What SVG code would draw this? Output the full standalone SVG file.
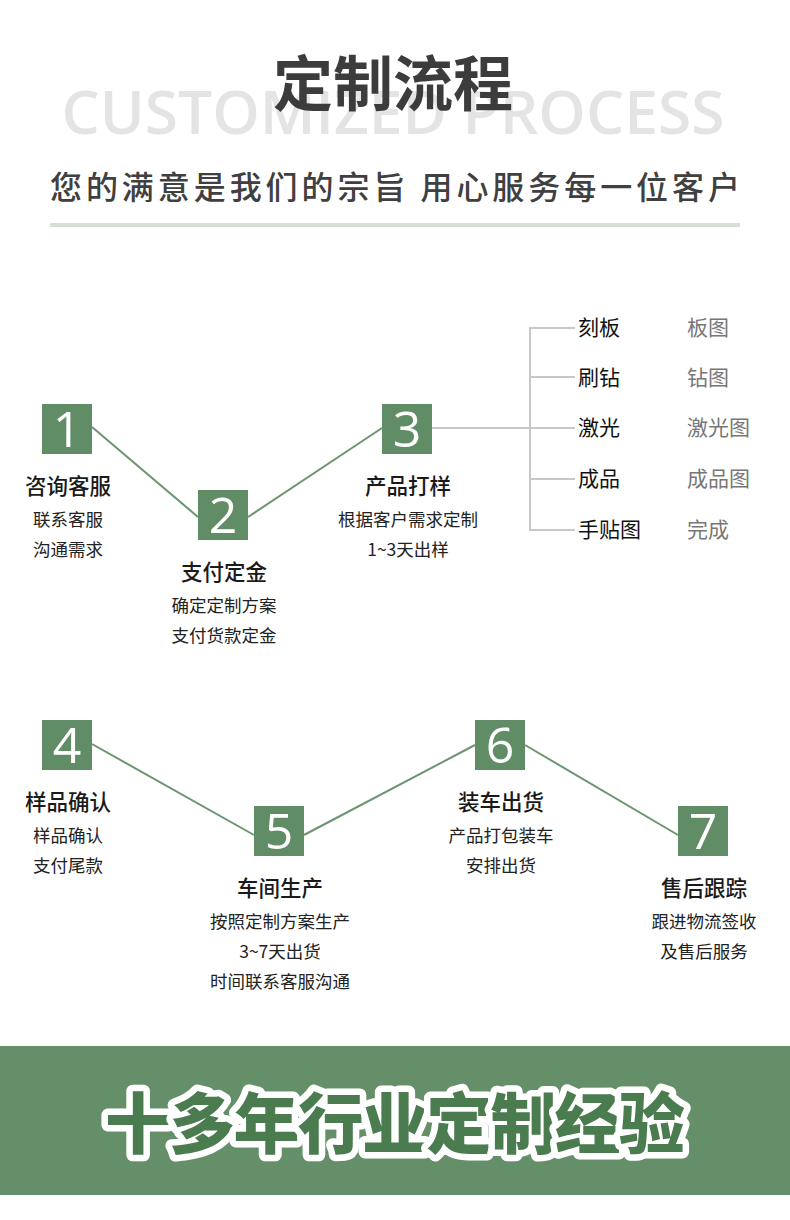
<svg xmlns="http://www.w3.org/2000/svg" width="790" height="1220" viewBox="0 0 790 1220">
<style>
text{font-family:"Noto Sans CJK SC","Noto Sans",sans-serif}
.box{fill:#608d66}
.num{fill:#fff;font-family:"Open Sans","Noto Sans",sans-serif;font-size:50px;text-anchor:middle}
.t{font-size:21.5px;fill:#1a1a1a;text-anchor:middle;font-weight:500}
.s{font-size:17.5px;fill:#222;text-anchor:middle}
.conn{stroke:#6a9570;stroke-width:2;fill:none}
.tree{stroke:#c8c8c8;stroke-width:2;fill:none}
.k{font-size:21px;fill:#111}
.g{font-size:21px;fill:#777}
</style>
<rect width="790" height="1220" fill="#fff"/>
<g id="header">
<text x="393" y="134" font-size="60" font-weight="600" fill="#e4e4e4" text-anchor="middle" textLength="663" lengthAdjust="spacingAndGlyphs" style="font-family:'Open Sans','Noto Sans',sans-serif">CUSTOMIZED PROCESS</text>
<text x="393" y="106" font-size="60" font-weight="700" fill="#3c3c3c" text-anchor="middle">定制流程</text>
<text x="395" y="199" font-size="32" font-weight="500" fill="#404040" text-anchor="middle" textLength="690" lengthAdjust="spacing">您的满意是我们的宗旨 用心服务每一位客户</text>
<rect x="50" y="223" width="690" height="4" fill="#d4e0d3"/>
</g>
<g id="connectors">
<line class="conn" x1="92" y1="427" x2="198" y2="517"/>
<line class="conn" x1="248" y1="517" x2="382" y2="428"/>
<line class="tree" x1="432" y1="428" x2="530" y2="428"/>
<path class="tree" d="M575 328H530V530H575M530 377H575M530 428H575M530 479H575"/>
<line class="conn" x1="92" y1="744" x2="254" y2="835"/>
<line class="conn" x1="304" y1="835" x2="475" y2="745"/>
<line class="conn" x1="525" y1="745" x2="678" y2="835"/>
</g>
<g id="step1">
<rect class="box" x="42" y="404" width="50" height="50"/>
<text class="num" x="67" y="447">1</text>
<text class="t" x="68" y="494">咨询客服</text>
<text class="s" x="68" y="526">联系客服</text>
<text class="s" x="68" y="556">沟通需求</text>
</g>
<g id="step2">
<rect class="box" x="198" y="490" width="50" height="50"/>
<text class="num" x="223" y="533">2</text>
<text class="t" x="224" y="580">支付定金</text>
<text class="s" x="224" y="612">确定定制方案</text>
<text class="s" x="224" y="642">支付货款定金</text>
</g>
<g id="step3">
<rect class="box" x="382" y="404" width="50" height="50"/>
<text class="num" x="407" y="447">3</text>
<text class="t" x="408" y="494">产品打样</text>
<text class="s" x="408" y="526">根据客户需求定制</text>
<text class="s" x="408" y="556">1~3天出样</text>
</g>
<g id="branches">
<text class="k" x="578" y="335">刻板</text><text class="g" x="687" y="335">板图</text>
<text class="k" x="578" y="385">刷钻</text><text class="g" x="687" y="385">钻图</text>
<text class="k" x="578" y="435">激光</text><text class="g" x="687" y="435">激光图</text>
<text class="k" x="578" y="486">成品</text><text class="g" x="687" y="486">成品图</text>
<text class="k" x="578" y="537">手贴图</text><text class="g" x="687" y="537">完成</text>
</g>
<g id="step4">
<rect class="box" x="42" y="720" width="50" height="50"/>
<text class="num" x="67" y="763">4</text>
<text class="t" x="68" y="810">样品确认</text>
<text class="s" x="68" y="842">样品确认</text>
<text class="s" x="68" y="872">支付尾款</text>
</g>
<g id="step5">
<rect class="box" x="254" y="806" width="50" height="50"/>
<text class="num" x="279" y="849">5</text>
<text class="t" x="280" y="896">车间生产</text>
<text class="s" x="280" y="928">按照定制方案生产</text>
<text class="s" x="280" y="958">3~7天出货</text>
<text class="s" x="280" y="988">时间联系客服沟通</text>
</g>
<g id="step6">
<rect class="box" x="475" y="720" width="50" height="50"/>
<text class="num" x="500" y="763">6</text>
<text class="t" x="501" y="810">装车出货</text>
<text class="s" x="501" y="842">产品打包装车</text>
<text class="s" x="501" y="872">安排出货</text>
</g>
<g id="step7">
<rect class="box" x="678" y="806" width="50" height="50"/>
<text class="num" x="703" y="849">7</text>
<text class="t" x="704" y="896">售后跟踪</text>
<text class="s" x="704" y="928">跟进物流签收</text>
<text class="s" x="704" y="958">及售后服务</text>
</g>
<g id="banner">
<rect x="0" y="1046" width="790" height="149" fill="#648f69"/>
<text x="395" y="1148" font-size="66" font-weight="900" fill="#4a7c4f" stroke="#fff" stroke-width="13" stroke-linejoin="round" paint-order="stroke" text-anchor="middle" textLength="580" lengthAdjust="spacing">十多年行业定制经验</text>
</g>
</svg>
